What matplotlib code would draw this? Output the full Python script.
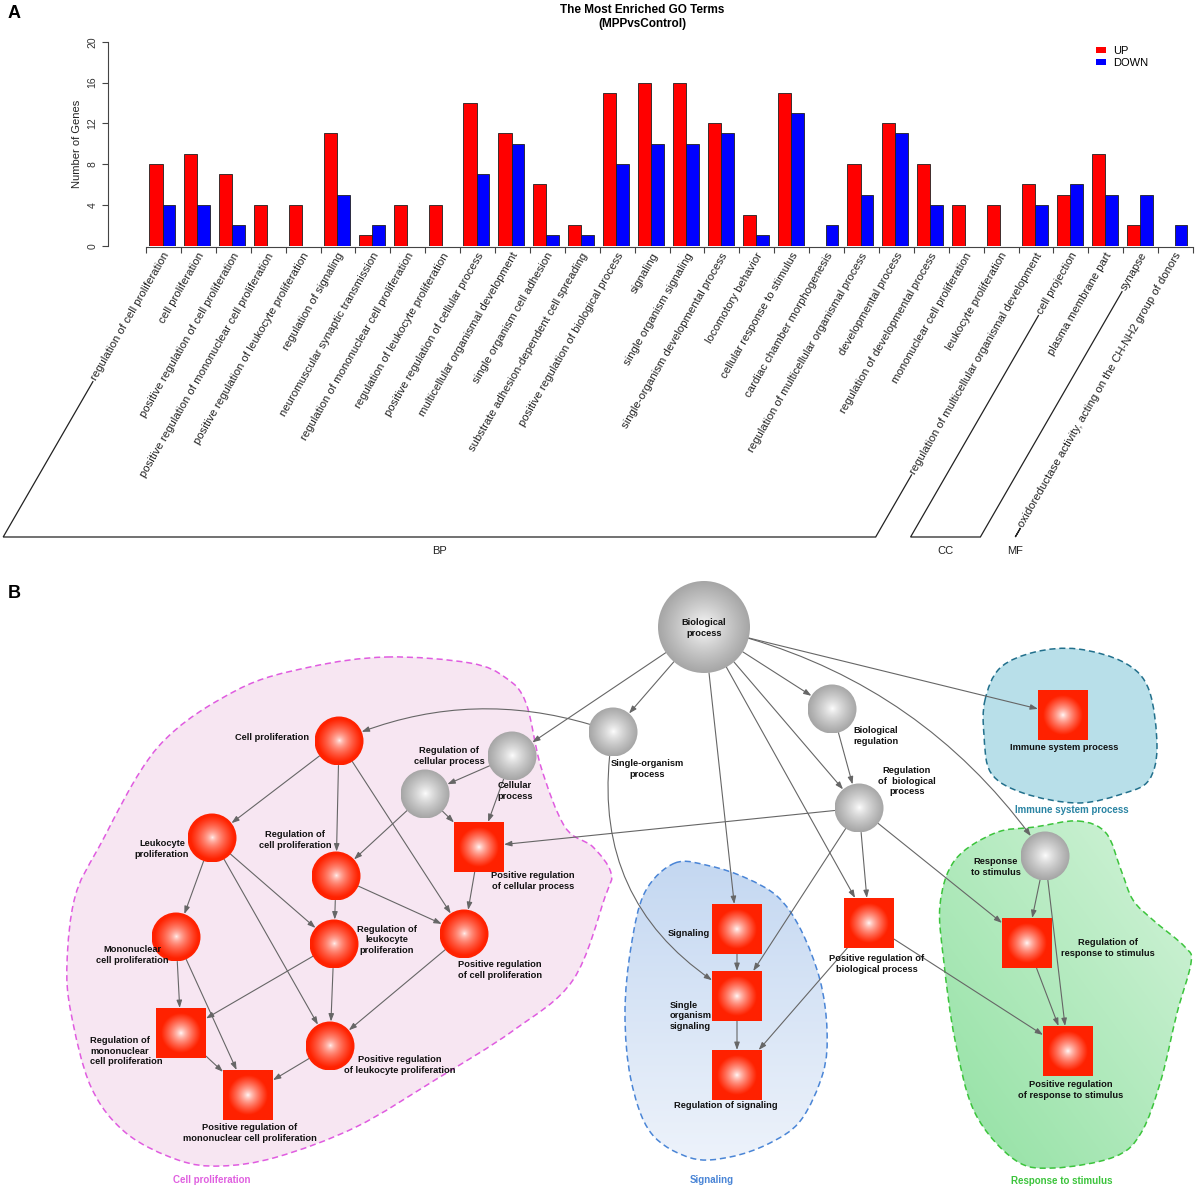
import numpy as np
import matplotlib
matplotlib.use("Agg")
import matplotlib.pyplot as plt
from matplotlib.patches import Circle, Rectangle, PathPatch, FancyArrowPatch, Patch
from matplotlib.path import Path

plt.rcParams["font.family"] = ["Liberation Sans", "DejaVu Sans"]

W, H = 1196, 1188

# ── Panel A data ─────────────────────────────────────────────────────────────
go_terms = [
    "regulation of cell proliferation",
    "cell proliferation",
    "positive regulation of cell proliferation",
    "positive regulation of mononuclear cell proliferation",
    "positive regulation of leukocyte proliferation",
    "regulation of signaling",
    "neuromuscular synaptic transmission",
    "regulation of mononuclear cell proliferation",
    "regulation of leukocyte proliferation",
    "positive regulation of cellular process",
    "multicellular organismal development",
    "single organism cell adhesion",
    "substrate adhesion-dependent cell spreading",
    "positive regulation of biological process",
    "signaling",
    "single organism signaling",
    "single-organism developmental process",
    "locomotory behavior",
    "cellular response to stimulus",
    "cardiac chamber morphogenesis",
    "regulation of multicellular organismal process",
    "developmental process",
    "regulation of developmental process",
    "mononuclear cell proliferation",
    "leukocyte proliferation",
    "regulation of multicellular organismal development",
    "cell projection",
    "plasma membrane part",
    "synapse",
    "oxidoreductase activity, acting on the CH-NH2 group of donors",
]
up_counts = [8, 9, 7, 4, 4, 11, 1, 4, 4, 14, 11, 6, 2, 15, 16, 16, 12, 3, 15, 0,
             8, 12, 8, 4, 4, 6, 5, 9, 2, 0]
down_counts = [4, 4, 2, 0, 0, 5, 2, 0, 0, 7, 10, 1, 1, 8, 10, 10, 11, 1, 13, 2,
               5, 11, 4, 0, 0, 4, 6, 5, 5, 2]
ontology = ["BP"] * 26 + ["CC"] * 3 + ["MF"]

# ── Panel B data (network layout, pixel coords from top-left) ────────────────
node_ids = ["bp", "single_org", "bio_reg", "reg_bio", "resp_stim", "cellular",
            "reg_cellular", "cell_prolif", "leuk_prolif", "reg_cell_prolif",
            "mono_prolif", "reg_leuk_prolif", "pos_cell_prolif", "pos_leuk_prolif",
            "pos_cellular", "reg_mono", "pos_mono", "immune", "signaling",
            "so_signaling", "reg_signaling", "pos_bio", "reg_resp", "pos_resp"]
node_x = [704, 613, 832, 859, 1045, 512, 425, 339, 212, 336, 176, 334, 464, 330,
          479, 181, 248, 1063, 737, 737, 737, 869, 1027, 1068]
node_y = [627, 732, 709, 808, 856, 756, 794, 741, 838, 876, 937, 944, 934, 1046,
          847, 1033, 1095, 715, 929, 996, 1075, 923, 943, 1051]
node_kind = ["gray"] * 7 + ["circle"] * 7 + ["square"] * 10
node_size = [46] + [24.5] * 13 + [25] * 10

node_labels = ["Biological\nprocess", "Single-organism\nprocess", "Biological\nregulation",
               "Regulation\nof  biological\nprocess", "Response\nto stimulus",
               "Cellular\nprocess", "Regulation of\ncellular process", "Cell proliferation",
               "Leukocyte\nproliferation", "Regulation of\ncell proliferation",
               "Mononuclear\ncell proliferation", "Regulation of\nleukocyte\nproliferation",
               "Positive regulation\nof cell proliferation",
               "Positive regulation\nof leukocyte proliferation",
               "Positive regulation\nof cellular process",
               "Regulation of\nmononuclear\ncell proliferation",
               "Positive regulation of\nmononuclear cell proliferation",
               "Immune system process", "Signaling", "Single\norganism\nsignaling",
               "Regulation of signaling", "Positive regulation of\nbiological process",
               "Regulation of\nresponse to stimulus",
               "Positive regulation\nof response to stimulus"]
label_x = [704, 647, 876, 907, 996, 515, 449, 272, 162, 295, 132, 387, 500, 400,
           533, 90, 250, 1064, 710, 670, 726, 877, 1108, 1071]
label_y = [628, 769, 736, 781, 867, 791, 756, 738, 849, 840, 955, 940, 970, 1065,
           881, 1051, 1133, 748, 933, 1016, 1106, 964, 948, 1090]
label_ha = ["center"] * 15 + ["left"] + ["center"] * 2 + ["right", "left"] + ["center"] * 4

edge_src = ["bp", "bp", "bp", "bp", "bp", "bp", "bp", "bp",
            "single_org", "single_org", "bio_reg",
            "reg_bio", "reg_bio", "reg_bio", "reg_bio",
            "cellular", "cellular", "reg_cellular", "reg_cellular",
            "cell_prolif", "cell_prolif", "cell_prolif",
            "leuk_prolif", "leuk_prolif", "leuk_prolif",
            "reg_cell_prolif", "reg_cell_prolif", "pos_cellular",
            "mono_prolif", "mono_prolif", "reg_leuk_prolif", "reg_leuk_prolif",
            "pos_cell_prolif", "reg_mono", "pos_leuk_prolif",
            "signaling", "so_signaling", "pos_bio", "pos_bio",
            "resp_stim", "resp_stim", "reg_resp"]
edge_tgt = ["cellular", "single_org", "signaling", "bio_reg", "reg_bio", "pos_bio",
            "resp_stim", "immune",
            "cell_prolif", "so_signaling", "reg_bio",
            "pos_cellular", "so_signaling", "pos_bio", "reg_resp",
            "reg_cellular", "pos_cellular", "pos_cellular", "reg_cell_prolif",
            "leuk_prolif", "reg_cell_prolif", "pos_cell_prolif",
            "mono_prolif", "reg_leuk_prolif", "pos_leuk_prolif",
            "reg_leuk_prolif", "pos_cell_prolif", "pos_cell_prolif",
            "reg_mono", "pos_mono", "reg_mono", "pos_leuk_prolif",
            "pos_leuk_prolif", "pos_mono", "pos_mono",
            "so_signaling", "reg_signaling", "reg_signaling", "pos_resp",
            "reg_resp", "pos_resp", "pos_resp"]
edge_rad = {("bp", "resp_stim"): -0.2, ("single_org", "cell_prolif"): 0.2,
            ("single_org", "so_signaling"): 0.35}

# module outlines (pixel coords)
prolif_blob_x = [387, 470, 506, 526, 541, 565, 593, 611, 605, 573, 514, 435, 356, 277,
                 221, 178, 126, 91, 71, 67, 75, 99, 158, 237, 310]
prolif_blob_y = [657, 663, 678, 703, 767, 827, 847, 873, 897, 980, 1030, 1080, 1127, 1157,
                 1166, 1160, 1133, 1087, 1013, 963, 897, 847, 747, 690, 667]
immune_blob_x = [985, 1000, 1035, 1078, 1125, 1149, 1157, 1149, 1125, 1078, 1023, 991, 984]
immune_blob_y = [700, 668, 652, 649, 663, 690, 747, 780, 793, 803, 793, 773, 735]
signal_blob_x = [675, 710, 746, 778, 801, 820, 827, 823, 801, 770, 730, 691, 651, 631,
                 625, 631, 645]
signal_blob_y = [863, 866, 878, 897, 930, 980, 1030, 1073, 1120, 1143, 1157, 1158, 1133,
                 1080, 1013, 947, 892]
resp_blob_x = [1078, 1106, 1121, 1133, 1153, 1185, 1191, 1177, 1161, 1141, 1114, 1054,
               1015, 975, 955, 944, 940, 955, 995, 1035]
resp_blob_y = [821, 833, 870, 900, 920, 947, 963, 1013, 1080, 1133, 1157, 1168, 1160,
               1113, 1040, 963, 905, 860, 833, 827]


def blob_path(xs, ys):
    """Closed Catmull-Rom outline through the points, as cubic Bezier path."""
    p = np.column_stack([xs, ys]).astype(float)
    n = len(p)
    verts, codes = [p[0]], [Path.MOVETO]
    for i in range(n):
        p0, p1, p2, p3 = p[i - 1], p[i], p[(i + 1) % n], p[(i + 2) % n]
        verts += [p1 + (p2 - p0) / 6, p2 - (p3 - p1) / 6, p2]
        codes += [Path.CURVE4] * 3
    verts.append(p[0])
    codes.append(Path.CLOSEPOLY)
    return Path(verts, codes)


def radial_image(edge_rgb, n=101, reach=0.85, gamma=0.6):
    yy, xx = np.mgrid[-1:1:n * 1j, -1:1:n * 1j]
    t = np.clip(np.hypot(xx, yy) / reach, 0, 1) ** gamma
    white = np.ones(3)
    return white + (np.array(edge_rgb) - white) * t[..., None]


def draw_blob(ax, xs, ys, edge, fill=None, top=None, bottom=None, diagonal=False):
    path = blob_path(xs, ys)
    if fill is not None:
        ax.add_patch(PathPatch(path, fc=fill, ec="none", zorder=1))
    else:
        n = 120
        yy, xx = np.mgrid[0:1:n * 1j, 0:1:n * 1j]
        t = ((1 - xx) + yy) / 2 if diagonal else yy
        img = np.array(top) + (np.array(bottom) - np.array(top)) * t[..., None]
        x0, x1 = min(xs) - 10, max(xs) + 10
        y0, y1 = min(ys) - 10, max(ys) + 10
        clip = PathPatch(path, fc="none", ec="none", transform=ax.transData)
        ax.add_patch(clip)
        im = ax.imshow(img, extent=(x0, x1, y1, y0), origin="upper",
                       aspect="auto", zorder=1, interpolation="bilinear")
        im.set_clip_path(clip)
    ax.add_patch(PathPatch(path, fc="none", ec=edge, lw=1.1,
                           ls=(0, (4, 2.5)), zorder=1.5))


def hex_rgb(h):
    return [int(h[i:i + 2], 16) / 255 for i in (1, 3, 5)]


fig = plt.figure(figsize=(W / 100, H / 100), dpi=100)

# ── Panel A: bar chart ───────────────────────────────────────────────────────
ax = fig.add_axes([108 / W, 1 - 245.7 / H, (W - 108) / W, 204 / H])
x = np.arange(len(go_terms))
up = np.array(up_counts)
down = np.array(down_counts)
m = up > 0
ax.bar(x[m] + 0.095, up[m], width=0.38, align="edge", color="#ff0000",
       edgecolor="#202020", linewidth=0.6)
m = down > 0
ax.bar(x[m] + 0.475, down[m], width=0.365, align="edge", color="#0000ff",
       edgecolor="#202020", linewidth=0.6)
ax.set_xlim((108 - 146) / 34.9, (W - 146) / 34.9)
ax.set_ylim(0, 20)
for s in ("top", "right"):
    ax.spines[s].set_visible(False)
ax.spines["left"].set_bounds(0, 20)
ax.spines["bottom"].set_bounds(0, len(go_terms))
ax.spines["bottom"].set_position(("outward", 1))
for s in ("left", "bottom"):
    ax.spines[s].set_color("#444444")
    ax.spines[s].set_linewidth(0.8)
ax.set_xticks(np.arange(len(go_terms) + 1))
ax.set_xticklabels([])
ax.set_yticks(range(0, 21, 4))
ax.set_yticklabels([str(v) for v in range(0, 21, 4)], rotation=90, va="center",
                   fontsize=7.5, color="#333333")
ax.tick_params(axis="x", length=4, width=0.8, color="#444444")
ax.tick_params(axis="y", length=4.5, width=0.8, color="#444444", pad=3)
ax.set_ylabel("Number of Genes", fontsize=8, color="#222222", labelpad=4)

term_texts = []
for i, term in enumerate(go_terms):
    term_texts.append(ax.text(i + 0.6, -0.75, term, rotation=60, rotation_mode="anchor",
                              ha="right", va="center", fontsize=8.2, color="#222222",
                              clip_on=False))

fig.text(642 / W, 1 - 10 / H, "The Most Enriched GO Terms", ha="center", va="center",
         fontsize=8.5, fontweight="bold")
fig.text(642 / W, 1 - 24 / H, "(MPPvsControl)", ha="center", va="center",
         fontsize=8.5, fontweight="bold")
fig.text(8 / W, 1 - 14 / H, "A", ha="left", va="center", fontsize=13, fontweight="bold")
fig.text(8 / W, 1 - 593 / H, "B", ha="left", va="center", fontsize=13, fontweight="bold")

fig.legend(handles=[Patch(fc="#ff0000", ec="none"), Patch(fc="#0000ff", ec="none")],
           labels=["UP", "DOWN"], loc="upper left",
           bbox_to_anchor=(1086 / W, 1 - 36 / H), frameon=False, fontsize=8,
           handlelength=0.9, handleheight=0.5, handletextpad=0.6, labelspacing=0.2)

# ── Overlay axes in pixel coordinates for brackets and panel B ───────────────
ob = fig.add_axes([0, 0, 1, 1])
ob.set_xlim(0, W)
ob.set_ylim(H, 0)
ob.axis("off")

fig.canvas.draw()
renderer = fig.canvas.get_renderer()
u = np.array([0.5, np.sqrt(3) / 2])
base_y = 537


def label_start(t):
    bb = t.get_window_extent(renderer)
    length = np.sqrt(3) * bb.height - bb.width
    anchor = ax.transData.transform(t.get_position())
    s = anchor - (length + 2) * u
    return ob.transData.inverted().transform(s)


for grp in ("BP", "CC", "MF"):
    idx = [i for i, o in enumerate(ontology) if o == grp]
    sf = label_start(term_texts[idx[0]])
    sl = label_start(term_texts[idx[-1]])
    bf = (sf[0] - (base_y - sf[1]) / np.sqrt(3), base_y)
    bl = (sl[0] - (base_y - sl[1]) / np.sqrt(3), base_y)
    ob.plot([sf[0], bf[0], bl[0], sl[0]], [sf[1], bf[1], bl[1], sl[1]],
            color="#222222", lw=0.9, solid_joinstyle="miter")
    ob.text((bf[0] + bl[0]) / 2, 551, grp, ha="center", va="center", fontsize=8,
            color="#222222")

# ── Panel B: network ─────────────────────────────────────────────────────────
draw_blob(ob, prolif_blob_x, prolif_blob_y, "#e05ce0", fill="#f7e6f2")
draw_blob(ob, immune_blob_x, immune_blob_y, "#22708c", fill="#b8dfe9")
draw_blob(ob, signal_blob_x, signal_blob_y, "#4a85d6",
          top=hex_rgb("#c3d7f1"), bottom=hex_rgb("#eef3fb"))
draw_blob(ob, resp_blob_x, resp_blob_y, "#3cc43c",
          top=hex_rgb("#d6f4dc"), bottom=hex_rgb("#8fe0a0"), diagonal=True)

blob_label_kw = dict(ha="center", va="center", fontsize=7, fontweight="bold")
ob.text(212, 1180, "Cell proliferation", color="#e060e0", **blob_label_kw)
ob.text(712, 1180, "Signaling", color="#4a85d6", **blob_label_kw)
ob.text(1072, 810, "Immune system process", color="#2a84a3", **blob_label_kw)
ob.text(1062, 1181, "Response to stimulus", color="#3cc43c", **blob_label_kw)

node_patch = {}
for nid, nx, ny, kind, size in zip(node_ids, node_x, node_y, node_kind, node_size):
    if kind == "square":
        p = Rectangle((nx - size, ny - size), 2 * size, 2 * size,
                      fc="none", ec="none", transform=ob.transData)
        img = radial_image(hex_rgb("#ff2200"), reach=0.8, gamma=0.75)
    elif kind == "gray":
        p = Circle((nx, ny), size, fc="none", ec="none", transform=ob.transData)
        img = radial_image(hex_rgb("#a6a6a6"), reach=1.0, gamma=0.8)
    else:
        p = Circle((nx, ny), size, fc="none", ec="none", transform=ob.transData)
        img = radial_image(hex_rgb("#ff2200"), reach=0.9, gamma=0.6)
    ob.add_patch(p)
    im = ob.imshow(img, extent=(nx - size, nx + size, ny + size, ny - size),
                   origin="upper", aspect="auto", zorder=3, interpolation="bilinear")
    im.set_clip_path(p)
    node_patch[nid] = p

pos = {nid: (nx, ny) for nid, nx, ny in zip(node_ids, node_x, node_y)}
for s, t in zip(edge_src, edge_tgt):
    rad = edge_rad.get((s, t), 0.0)
    arr = FancyArrowPatch(pos[s], pos[t], patchA=node_patch[s], patchB=node_patch[t],
                          shrinkA=0, shrinkB=0, connectionstyle=f"arc3,rad={rad}",
                          arrowstyle="-|>,head_length=0.45,head_width=0.16",
                          mutation_scale=10, color="#666666", lw=0.8, zorder=2)
    ob.add_patch(arr)

for text, lx, ly, ha in zip(node_labels, label_x, label_y, label_ha):
    ob.text(lx, ly, text, ha=ha, va="center", multialignment=ha,
            fontsize=6.7, fontweight="bold", color="#111111", linespacing=1.2, zorder=4)

ob.set_xlim(0, W)
ob.set_ylim(H, 0)

fig.savefig("out.png", dpi=100)
plt.close(fig)
